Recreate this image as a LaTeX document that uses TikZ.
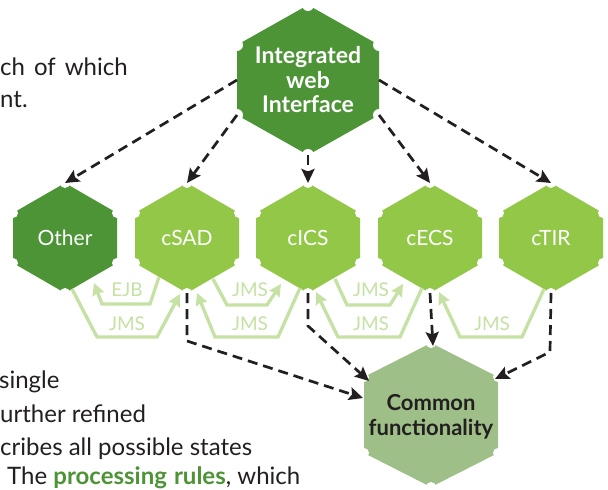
\documentclass[tikz,border=0pt]{standalone}
\usepackage{fontspec}
\setmainfont{Lato}
\usetikzlibrary{arrows.meta}
\definecolor{dkgreen}{HTML}{4D9436}
\definecolor{ltgreen}{HTML}{92C748}
\definecolor{sage}{HTML}{9EC088}
\definecolor{pale}{HTML}{C5E1A3}
\definecolor{ink}{HTML}{231F20}
% name, cx, cy, half width, half height, side offset, fill, notch radius
\newcommand{\hexnode}[8]{%
  \coordinate (#1-t) at (#2,#3-#5);
  \coordinate (#1-b) at (#2,#3+#5);
  \coordinate (#1-ul) at (#2-#4,#3-#6);
  \coordinate (#1-ur) at (#2+#4,#3-#6);
  \coordinate (#1-ll) at (#2-#4,#3+#6);
  \coordinate (#1-lr) at (#2+#4,#3+#6);
  \coordinate (#1-l) at (#2-#4,#3);
  \coordinate (#1-r) at (#2+#4,#3);
  \fill[#7] (#1-t) -- (#1-ur) -- (#1-lr) -- (#1-b) -- (#1-ll) -- (#1-ul) -- cycle;
  \foreach \v in {t,b,ul,ur,ll,lr} {\fill[white] (#1-\v) circle (#8);}
}
\tikzset{
  nodetext/.style={text=white, align=center, inner sep=0pt, font=\fontsize{21}{24}\selectfont},
  boldtext/.style={align=center, inner sep=0pt, font=\bfseries\fontsize{23}{24.5}\selectfont},
  bodytext/.style={text=ink, inner sep=0pt, anchor=base west, font=\fontsize{24}{28}\selectfont},
  dasharrow/.style={draw=ink, line width=2.7pt, dash pattern=on 10pt off 6pt,
    -{Stealth[length=14pt,width=13pt,inset=2.5pt]}},
  jmsarrow/.style={draw=pale, line width=3.3pt, line join=miter,
    -{Stealth[length=12pt,width=12pt,inset=1.5pt]}},
  jmslabel/.style={text=pale, inner sep=0pt, font=\fontsize{19}{19}\selectfont}
}
\begin{document}
\begin{tikzpicture}[x=1pt,y=-1pt]
\useasboundingbox (0,0) rectangle (608,490);
\fill[white] (0,0) rectangle (608,490);

% background body text
\node[bodytext] (t1) at (0,75) {ch\hspace{0.12em} of\hspace{0.12em} which};
\node[bodytext] (t2) at (0,107) {nt.};
\node[bodytext] (t3) at (-1,388) {single};
\node[bodytext] (t4) at (0,422) {urther refined};
\node[bodytext] (t5) at (0,455) {cribes all possible states};
\node[bodytext] (t6) at (7,484) {The \textcolor{dkgreen}{\bfseries processing\hspace{0.05em} rules}, which};

% hexagon shapes
\hexnode{iwi}{308}{80}{71}{75}{35}{dkgreen}{6pt}
\hexnode{oth}{65}{238}{52}{55}{25}{dkgreen}{5pt}
\hexnode{sad}{187}{238}{52}{55}{25}{ltgreen}{5pt}
\hexnode{ics}{308}{238}{52}{55}{25}{ltgreen}{5pt}
\hexnode{ecs}{430}{238}{52}{55}{25}{ltgreen}{5pt}
\hexnode{tir}{551}{238}{52}{55}{25}{ltgreen}{5pt}
\hexnode{com}{431}{415}{67}{72}{38}{sage}{5pt}

\node[boldtext, text=white] (iwi) at (308,80) {Integrated\\web\\Interface};
\node[nodetext] (oth) at (65,238) {Other};
\node[nodetext] (sad) at (187,238) {cSAD};
\node[nodetext] (ics) at (308,238) {cICS};
\node[nodetext] (ecs) at (430,238) {cECS};
\node[nodetext] (tir) at (551,238) {cTIR};
\node[boldtext, text=ink, font=\bfseries\fontsize{22}{25}\selectfont] (com) at (431,417) {Common\\functionality};

% dashed arrows from the integrated web interface
\draw[dasharrow] (iwi-l) -- (oth-t);
\draw[dasharrow] (iwi-ll) -- (sad-t);
\draw[dasharrow] (iwi-b) -- (ics-t);
\draw[dasharrow] (iwi-lr) -- (ecs-t);
\draw[dasharrow] (iwi-r) -- (tir-t);

% dashed arrows to common functionality
\coordinate (comA) at (363,398);
\coordinate (comB) at (369,381);
\coordinate (comC) at (433,346);
\coordinate (comD) at (495,379);
\draw[dasharrow] (sad-b) -- (187,341) -- (comA);
\draw[dasharrow] (ics-b) -- (308,326) -- (comB);
\draw[dasharrow] (ecs-b) -- (comC);
\draw[dasharrow] (tir-b) -- (550,352) -- (comD);

% EJB / JMS connectors
\coordinate (e1s) at (159,277); \coordinate (e1e) at (94,283);
\draw[jmsarrow] (e1s) -- (150,304) -- (102,304) -- (e1e);
\node[jmslabel] (lab1) at (127,290) {EJB};

\coordinate (j1s) at (72,289); \coordinate (j1e) at (180,294);
\draw[jmsarrow] (j1s) -- (97,337) -- (157,337) -- (j1e);
\node[jmslabel] (lab2) at (127,324) {JMS};

\coordinate (j2s) at (213,279); \coordinate (j2e) at (281,284);
\draw[jmsarrow] (j2s) -- (227,305) -- (267,305) -- (j2e);
\node[jmslabel] (lab3) at (250,290) {JMS};

\coordinate (j3s) at (300,288); \coordinate (j3e) at (197,293);
\draw[jmsarrow] (j3s) -- (278,337) -- (215,337) -- (j3e);
\node[jmslabel] (lab4) at (250,324) {JMS};

\coordinate (j4s) at (335,279); \coordinate (j4e) at (403,284);
\draw[jmsarrow] (j4s) -- (347,305) -- (390,305) -- (j4e);
\node[jmslabel] (lab5) at (371,290) {JMS};

\coordinate (j5s) at (422,288); \coordinate (j5e) at (316,292);
\draw[jmsarrow] (j5s) -- (400,337) -- (338,337) -- (j5e);
\node[jmslabel] (lab6) at (371,324) {JMS};

\coordinate (j6s) at (544,289); \coordinate (j6e) at (439,292);
\draw[jmsarrow] (j6s) -- (522,337) -- (460,337) -- (j6e);
\node[jmslabel] (lab7) at (492,324) {JMS};
\end{tikzpicture}
\end{document}
